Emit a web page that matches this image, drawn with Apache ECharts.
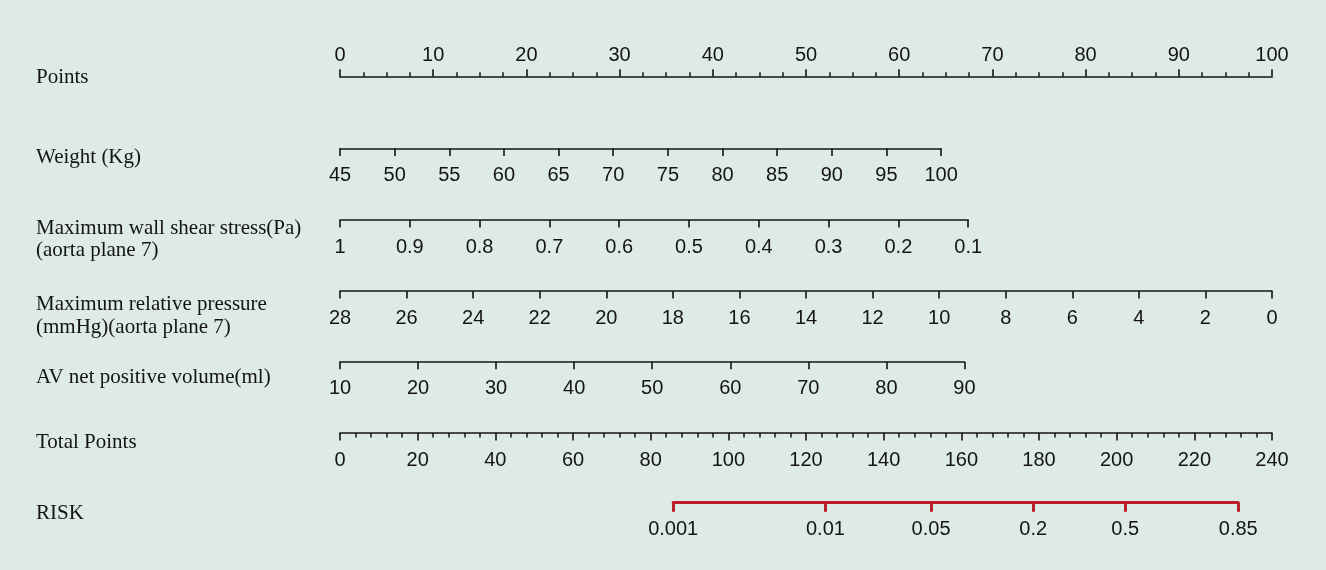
<!DOCTYPE html>
<html>
<head>
<meta charset="utf-8">
<script src="https://cdn.jsdelivr.net/npm/echarts@6/dist/echarts.min.js"></script>
<style>
html,body{margin:0;padding:0;background:#deebe5;}
#chart{width:1326px;height:570px;}
</style>
</head>
<body>
<div id="chart"></div>
<script>
// ---- Data ----
const rowTitles = [
  ['Points'],
  ['Weight (Kg)'],
  ['Maximum wall shear stress(Pa)', '(aorta plane 7)'],
  ['Maximum relative pressure', '(mmHg)(aorta plane 7)'],
  ['AV net positive volume(ml)'],
  ['Total Points'],
  ['RISK']
];
const pointsRange = [0, 100, 10];          // min, max, interval
const weightRange = [45, 100, 5];
const shearRange = [0.1, 1, 0.1];          // drawn reversed
const pressureRange = [0, 28, 2];          // drawn reversed
const volumeRange = [10, 90, 10];
const totalRange = [0, 240, 20];
const riskLabels = ['0.001', '0.01', '0.05', '0.2', '0.5', '0.85'];
const riskTotalPoints = [85.8, 125.0, 152.2, 178.5, 202.2, 231.3];

// ---- Layout ----
const X0 = 340, X1 = 1272;
const pxPerPoint = (X1 - X0) / 100;
// points contributed by the max of each predictor
const weightMaxPts = 64.5, shearMaxPts = 67.4, volumeMaxPts = 67.0;

const rows = [
  {y: 77.7, left: X0, width: X1 - X0, r: pointsRange, pos: 'top', minor: 4},
  {y: 148.5, left: X0, width: weightMaxPts * pxPerPoint, r: weightRange, pos: 'bottom'},
  {y: 220, left: X0, width: shearMaxPts * pxPerPoint, r: shearRange, pos: 'bottom', inverse: true},
  {y: 291, left: X0, width: X1 - X0, r: pressureRange, pos: 'bottom', inverse: true},
  {y: 361.7, left: X0, width: volumeMaxPts * pxPerPoint, r: volumeRange, pos: 'bottom'},
  {y: 433, left: X0, width: X1 - X0, r: totalRange, pos: 'bottom', minor: 5}
];
const titleY = [[78], [158], [229, 251], [305, 328], [378], [443], [514]];

const ink = '#141414';
const red = '#bd1e2d';
const labelFont = {fontFamily: 'Liberation Sans, Arial, sans-serif', fontSize: 20, color: ink};

const grids = [], xAxes = [], yAxes = [], series = [];
rows.forEach((row, i) => {
  grids.push({left: row.left, width: row.width, top: row.y - 1, height: 1, containLabel: false});
  xAxes.push({
    type: 'value', gridIndex: i, position: row.pos,
    min: row.r[0], max: row.r[1], interval: row.r[2], inverse: !!row.inverse,
    axisLine: {show: true, onZero: false, lineStyle: {color: ink, width: 1.7}},
    axisTick: {show: true, length: 7.5, lineStyle: {color: ink, width: 1.6}},
    minorTick: row.minor ? {show: true, splitNumber: row.minor, length: 4.5, lineStyle: {color: ink, width: 1.5}} : {show: false},
    splitLine: {show: false},
    axisLabel: Object.assign({margin: row.pos === 'top' ? 11 : 17, showMinLabel: true, showMaxLabel: true, hideOverlap: false,
      formatter: v => String(Math.round(v * 1000) / 1000)}, labelFont)
  });
  yAxes.push({type: 'value', gridIndex: i, show: false, min: 0, max: 1});
});

// Risk row: an axis in total-points units, spanning only the risk range
const ri = rows.length;
const totPx = (X1 - X0) / 240;
const riskLeft = X0 + riskTotalPoints[0] * totPx;
const riskWidth = (riskTotalPoints[riskTotalPoints.length - 1] - riskTotalPoints[0]) * totPx;
grids.push({left: riskLeft, width: riskWidth, top: 501.7, height: 1});
xAxes.push({
  type: 'value', gridIndex: ri, position: 'bottom',
  min: riskTotalPoints[0], max: riskTotalPoints[riskTotalPoints.length - 1],
  axisLine: {show: true, onZero: false, lineStyle: {color: red, width: 3}},
  axisTick: {show: true, length: 9, customValues: riskTotalPoints, lineStyle: {color: red, width: 3}},
  splitLine: {show: false},
  axisLabel: Object.assign({margin: 17, customValues: riskTotalPoints, showMinLabel: true, showMaxLabel: true, hideOverlap: false,
    formatter: v => {
      let k = 0, best = Infinity;
      riskTotalPoints.forEach((p, j) => { const d = Math.abs(p - v); if (d < best) { best = d; k = j; } });
      return riskLabels[k];
    }}, labelFont)
});
yAxes.push({type: 'value', gridIndex: ri, show: false, min: 0, max: 1});

// Row titles
const graphics = [];
rowTitles.forEach((lines, i) => {
  lines.forEach((t, j) => {
    graphics.push({
      type: 'text', left: 36, top: titleY[i][j] - 11,
      style: {text: t, fill: ink, font: '21px "Liberation Serif", "Times New Roman", serif', textVerticalAlign: 'top'}
    });
  });
});

const chart = echarts.init(document.getElementById('chart'), null, {renderer: 'canvas'});
chart.setOption({
  backgroundColor: '#deebe5',
  animation: false,
  grid: grids,
  xAxis: xAxes,
  yAxis: yAxes,
  series: series,
  graphic: graphics
});
</script>
</body>
</html>
